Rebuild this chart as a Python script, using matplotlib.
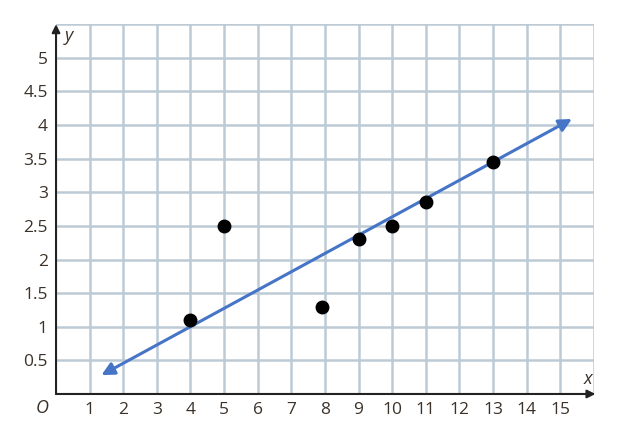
"""Scatter plot with a fitted trend line drawn on grid paper."""

import matplotlib.pyplot as plt
from matplotlib.patches import FancyArrowPatch

# data points
xs = [4, 5, 7.9, 9, 10, 11, 13]
ys = [1.1, 2.5, 1.3, 2.3, 2.5, 2.85, 3.45]

# trend line end points (arrow tips)
line_x = [1.35, 15.35]
line_y = [0.28, 4.09]

x_ticks = list(range(1, 16))
y_ticks = [0.5, 1, 1.5, 2, 2.5, 3, 3.5, 4, 4.5, 5]
y_tick_labels = ["0.5", "1", "1.5", "2", "2.5", "3", "3.5", "4", "4.5", "5"]

GRID = "#bccad5"
TEXT = "#3b3128"
BLUE = "#4674c6"

plt.rcParams["font.family"] = ["Open Sans", "DejaVu Sans"]

fig = plt.figure(figsize=(6.26, 4.32), dpi=100)
ax = fig.add_axes([0.0895, 0.088, 0.859, 0.856])
ax.set_xlim(0, 16)
ax.set_ylim(0, 5.5)

# grid paper
for gx in range(1, 17):
    ax.axvline(gx, color=GRID, lw=1.8, zorder=0)
for gy in [0.5 * k for k in range(1, 12)]:
    ax.axhline(gy, color=GRID, lw=1.8, zorder=0)

for side in ["top", "right", "left", "bottom"]:
    ax.spines[side].set_visible(False)

ax.set_xticks(x_ticks)
ax.set_xticklabels([str(t) for t in x_ticks])
ax.set_yticks(y_ticks)
ax.set_yticklabels(y_tick_labels)
ax.tick_params(length=0, labelsize=12.5, colors=TEXT, pad=6)

# axes with arrow heads
ax.annotate("", xy=(16.05, 0), xytext=(0, 0),
            arrowprops=dict(arrowstyle="-|>", color="#222222", lw=1.5,
                            mutation_scale=12, shrinkA=0, shrinkB=0),
            annotation_clip=False, zorder=3)
ax.annotate("", xy=(0, 5.5), xytext=(0, 0),
            arrowprops=dict(arrowstyle="-|>", color="#222222", lw=1.5,
                            mutation_scale=12, shrinkA=0, shrinkB=0),
            annotation_clip=False, zorder=3)

ax.text(15.7, 0.15, "x", style="italic", fontsize=13, color=TEXT)
ax.text(0.25, 5.25, "y", style="italic", fontsize=13, color=TEXT)
ax.text(-0.4, -0.21, "O", style="italic", fontsize=13, color=TEXT,
        ha="center", va="center")

# trend line
ax.add_patch(FancyArrowPatch((line_x[0], line_y[0]), (line_x[1], line_y[1]),
                             arrowstyle="<|-|>", color=BLUE, lw=2.2,
                             mutation_scale=19, shrinkA=0, shrinkB=0, zorder=4))

ax.plot(xs, ys, "o", color="black", ms=9, zorder=5)

fig.savefig("out.png", dpi=100)
